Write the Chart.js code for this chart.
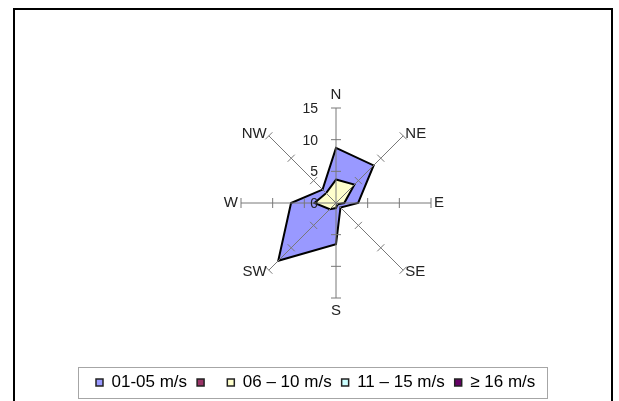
<!DOCTYPE html>
<html>
<head>
<meta charset="utf-8">
<title>Wind rose</title>
<script src="https://cdn.jsdelivr.net/npm/chart.js@4/dist/chart.umd.min.js"></script>
<style>
    html, body { margin: 0; padding: 0; background: #fff; overflow: hidden; }
    #frame {
        position: absolute; left: 13px; top: 8px; width: 600px; height: 420px;
        border: 2px solid #000; box-sizing: border-box;
    }
    #rose { position: absolute; left: 0; top: 0; }
</style>
</head>
<body>
<div id="frame"></div>
<canvas id="rose" width="619" height="401"></canvas>
<script>
// Wind directions (clockwise from north)
const directions = ['N', 'NE', 'E', 'SE', 'S', 'SW', 'W', 'NW'];

// Frequency per direction for each speed class
const speed01to05 = [8.7, 8.4, 3.5, 1.0, 6.5, 12.9, 7.1, 3.0];
const speedBlank = [0, 0, 0, 0, 0, 0, 0, 0];
const speed06to10 = [3.7, 4.1, 1.3, 0.3, 0.8, 1.4, 3.4, 2.2];
const speed11to15 = [0, 0, 0, 0, 0, 0, 0, 0];
const speed16plus = [0, 0, 0, 0, 0, 0, 0, 0];

// Radial axis ticks
const radialTicks = [0, 5, 10, 15];

const FONT = 'Arial, "Liberation Sans", sans-serif';
const AXIS_GREY = '#787878';

// Axes, tick marks and labels are drawn over the filled areas like in Excel
const windRosePlugin = {
    id: 'windRose',
    afterDatasetsDraw(chart) {
        const scale = chart.scales.r;
        const ctx = chart.ctx;
        const outer = scale.getDistanceFromCenterForValue(radialTicks[radialTicks.length - 1]);
        ctx.save();

        // axis lines + small cross ticks
        ctx.strokeStyle = AXIS_GREY;
        ctx.lineWidth = 1;
        directions.forEach((d, i) => {
            const end = scale.getPointPosition(i, outer);
            ctx.beginPath();
            ctx.moveTo(scale.xCenter, scale.yCenter);
            ctx.lineTo(end.x, end.y);
            ctx.stroke();

            const a = scale.getIndexAngle(i) - Math.PI / 2;
            const px = -Math.sin(a), py = Math.cos(a);
            radialTicks.slice(1).forEach(v => {
                const p = scale.getPointPosition(i, scale.getDistanceFromCenterForValue(v));
                ctx.beginPath();
                ctx.moveTo(p.x - px * 5, p.y - py * 5);
                ctx.lineTo(p.x + px * 5, p.y + py * 5);
                ctx.stroke();
            });
        });

        // tick values, left of the north axis
        ctx.fillStyle = '#222';
        ctx.font = '14px ' + FONT;
        ctx.textAlign = 'right';
        ctx.textBaseline = 'middle';
        radialTicks.forEach(v => {
            const y = scale.yCenter - scale.getDistanceFromCenterForValue(v);
            ctx.fillText(String(v), scale.xCenter - 18, y + 1);
        });

        // direction labels
        ctx.font = '15px ' + FONT;
        directions.forEach((d, i) => {
            const a = scale.getIndexAngle(i) - Math.PI / 2;
            const c = Math.cos(a);
            let p;
            if (Math.abs(c) < 0.1) {
                p = scale.getPointPosition(i, outer + 13);
                ctx.textAlign = 'center';
            } else {
                p = scale.getPointPosition(i, outer + 3);
                ctx.textAlign = c > 0 ? 'left' : 'right';
            }
            ctx.fillText(d, p.x, p.y);
        });
        ctx.restore();
    },
    afterDraw(chart) {
        // grey frame round the legend
        const boxes = chart.legend && chart.legend.legendHitBoxes;
        if (!boxes || !boxes.length) return;
        const first = boxes[0];
        const last = boxes[boxes.length - 1];
        const ctx = chart.ctx;
        const midY = first.top + first.height / 2;
        const left = Math.round(first.left - 18) + 0.5;
        const right = Math.round(last.left + last.width + 12) + 0.5;
        const top = Math.round(midY - 16) + 0.5;
        const bottom = Math.round(midY + 15) + 0.5;
        ctx.save();
        ctx.strokeStyle = '#a6a6a6';
        ctx.lineWidth = 1;
        ctx.strokeRect(left, top, right - left, bottom - top);
        ctx.restore();
    }
};

function series(label, data, color, order) {
    return {
        label: label,
        data: data,
        backgroundColor: color,
        borderColor: '#000',
        borderWidth: data.some(v => v > 0) ? 2 : 0,
        pointRadius: 0,
        pointHoverRadius: 0,
        fill: true,
        tension: 0,
        order: order
    };
}

new Chart(document.getElementById('rose'), {
    type: 'radar',
    data: {
        labels: directions,
        datasets: [
            series('01-05 m/s', speed01to05, '#9999FF', 5),
            series(' ', speedBlank, '#993366', 4),
            series('06 \u2013 10 m/s', speed06to10, '#FFFFCC', 3),
            series('11 \u2013 15 m/s', speed11to15, '#CCFFFF', 2),
            series('\u2265 16 m/s', speed16plus, '#660066', 1)
        ]
    },
    options: {
        responsive: false,
        animation: false,
        devicePixelRatio: 1,
        layout: { padding: { left: 86, right: 33, top: 108, bottom: 0 } },
        scales: {
            r: {
                min: 0,
                max: 15,
                ticks: { display: false, stepSize: 5 },
                grid: { display: false },
                angleLines: { display: false },
                pointLabels: { display: false }
            }
        },
        plugins: {
            tooltip: { enabled: false },
            legend: {
                position: 'bottom',
                align: 'start',
                title: {
                    display: true,
                    text: '',
                    padding: { top: 54.5, bottom: 0 },
                    font: { size: 10, lineHeight: 1 }
                },
                labels: {
                    boxWidth: 7,
                    boxHeight: 7,
                    padding: 10,
                    color: '#000',
                    font: { family: FONT, size: 17 },
                    sort: (a, b) => a.datasetIndex - b.datasetIndex,
                    generateLabels(chart) {
                        const items = Chart.defaults.plugins.legend.labels.generateLabels(chart);
                        items.forEach(it => { it.lineWidth = 1.5; it.strokeStyle = '#222'; });
                        return items;
                    }
                }
            }
        }
    },
    plugins: [windRosePlugin]
});
</script>
</body>
</html>
